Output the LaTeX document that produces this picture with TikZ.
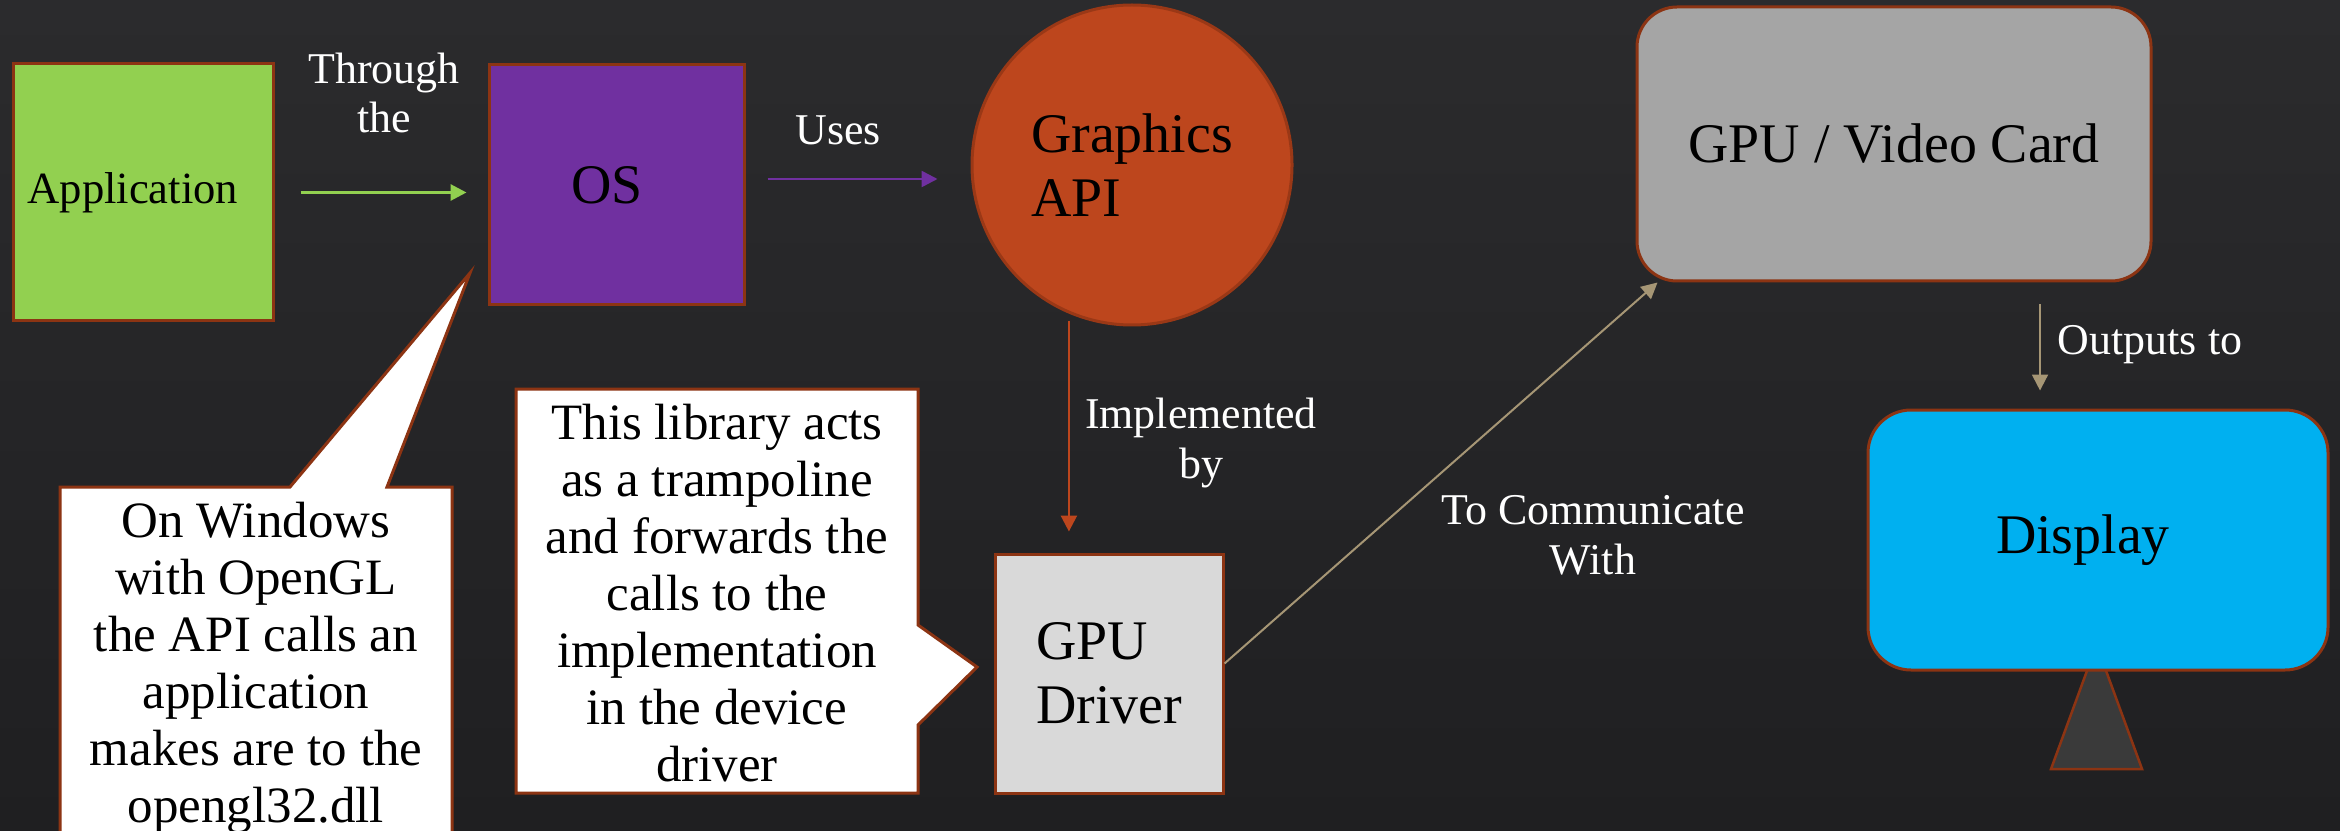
\documentclass[tikz,border=0pt]{standalone}
\usepackage{fontspec}
\setmainfont{Liberation Serif}
\usetikzlibrary{arrows.meta,calc}

\definecolor{bgtop}{HTML}{2B2B2D}
\definecolor{bgbot}{HTML}{1F1F21}
\definecolor{brd}{HTML}{8C3413}
\definecolor{appgreen}{HTML}{92D050}
\definecolor{ospurple}{HTML}{7030A0}
\definecolor{apiorange}{HTML}{BD461D}
\definecolor{apiedge}{HTML}{9A3816}
\definecolor{drvgray}{HTML}{D9D9D9}
\definecolor{cardgray}{HTML}{A5A5A5}
\definecolor{screenblue}{HTML}{00B0F0}
\definecolor{standgray}{HTML}{3A3A3A}
\definecolor{linktan}{HTML}{A69675}

\tikzset{
  box/.style={draw=brd, line width=0.3mm, inner sep=0pt, text=black,
              font=\fontsize{15.9pt}{18pt}\selectfont},
  lbl/.style={text=white, inner sep=0pt, align=center,
              font=\fontsize{12.5pt}{14.2pt}\selectfont},
  notetext/.style={text=black, inner sep=0pt, align=center,
              font=\fontsize{14.5pt}{16.2pt}\selectfont},
  bubble/.style={fill=white, draw=brd, line width=0.3mm, line join=miter},
  arr/.style={line width=0.25mm, -{Triangle[length=1.6mm,width=1.6mm]}},
}

\begin{document}
\begin{tikzpicture}[x=0.1mm, y=-0.1mm]
  % page and backdrop
  \useasboundingbox (0,0) rectangle (2340,831);
  \clip (0,0) rectangle (2340,831);
  \shade[top color=bgtop, bottom color=bgbot] (0,0) rectangle (2340,831);

  % main blocks
  \node[box, fill=appgreen, minimum width=26mm, minimum height=25.7mm,
        text width=23.1mm, align=left, font=\fontsize{12.7pt}{15pt}\selectfont]
        (app) at (143,192.5) {Application};
  \node[box, fill=ospurple, minimum width=25.5mm, minimum height=24mm,
        text width=9.1mm, align=left]
        (os) at (616.5,185) {OS};
  \node[box, circle, fill=apiorange, draw=apiedge, minimum size=32mm, align=left]
        (api) at (1132,165) {Graphics\\API};
  \node[box, fill=drvgray, minimum width=22.8mm, minimum height=23.9mm, align=left,
        font=\fontsize{15.9pt}{18.3pt}\selectfont]
        (drv) at (1109,673.5) {GPU\\Driver};
  \node[box, fill=cardgray, rounded corners=4mm, minimum width=51.4mm, minimum height=27.4mm]
        (gpu) at (1894,144) {GPU / Video Card};

  % monitor stand, then the screen over it
  \filldraw[fill=standgray, draw=brd, line width=0.25mm]
        (2088,668) -- (2105,668) -- (2142,769) -- (2051,769) -- cycle;
  \node[box, fill=screenblue, rounded corners=4.3mm, minimum width=46mm, minimum height=26mm,
        text width=20.4mm, align=left]
        (disp) at (2098,540) {Display};

  % speech bubbles
  \path[bubble] (60,487) -- (290,487) -- (470,273) -- (387,487) -- (452,487)
        -- (452,900) -- (60,900) -- cycle;
  \node[notetext] (win) at (256,668)
        {On Windows\\with OpenGL\\the API calls an\\application\\makes are to the\\opengl32.dll};

  \path[bubble] (516,389) -- (918,389) -- (918,625) -- (977,667) -- (918,725)
        -- (918,793) -- (516,793) -- cycle;
  \node[notetext] (tramp) at (717,593)
        {This library acts\\as a trampoline\\and forwards the\\calls to the\\implementation\\in the device\\driver};

  % connectors
  \draw[arr, appgreen, line width=0.3mm, shorten <=2.6mm, shorten >=2.1mm]
        (app.east) -- (app.east -| os.west);
  \draw[arr, ospurple, shorten <=2.2mm, shorten >=3.3mm]
        ([yshift=0.6mm]os.east) -- ([yshift=0.6mm]os.east -| api.west);
  \draw[arr, apiorange, shorten <=0.7mm, shorten >=2.1mm]
        (api.247.6) -- (api.247.6 |- drv.north);
  \draw[arr, linktan, line width=0.2mm]
        ([yshift=1mm]drv.east) -- ($(gpu.south west)+(22,0)$);
  \draw[arr, linktan, line width=0.2mm, shorten <=2.2mm, shorten >=1.8mm]
        ($(gpu.south)+(146,0)$) -- ($(disp.north)+(-58,0)$);

  % connector captions
  \node[lbl] (lthrough) at (384,93) {Through\\the};
  \node[lbl, anchor=base] (luses) at (838,145) {Uses};
  \node[lbl] (limpl) at (1201,443) {Implemented\\by};
  \node[lbl] (lcomm) at (1593,535) {To Communicate\\With};
  \node[lbl, anchor=base] (lout) at (2150,355) {Outputs to};
\end{tikzpicture}
\end{document}
